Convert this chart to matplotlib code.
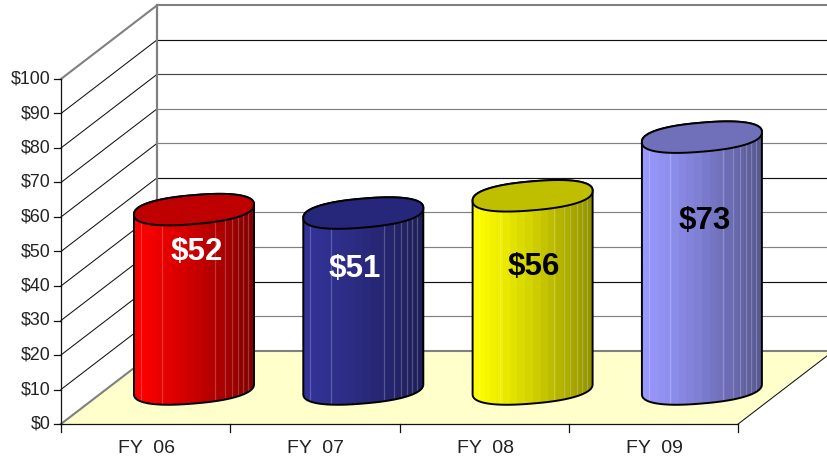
import numpy as np
import matplotlib
matplotlib.use("Agg")
import matplotlib.pyplot as plt
from matplotlib.patches import Polygon

categories = ["FY  06", "FY  07", "FY  08", "FY  09"]
values = [52, 51, 56, 73]
value_labels = ["$52", "$51", "$56", "$73"]
label_heights = [39.7, 34.9, 35.3, 48.6]
label_shift_px = [2.5, -9, 1.0, 3]
label_colors = ["white", "white", "black", "black"]
left_colors = ["#ff0000", "#333399", "#ffff00", "#9999ff"]
right_colors = ["#800000", "#1e1e58", "#909000", "#565690"]
top_colors = ["#bf0000", "#26267a", "#bfbf00", "#7070ba"]
y_ticks = list(range(0, 101, 10))
y_tick_labels = [f"${v}" for v in y_ticks]
grid_colors = {0: "#808080", 10: "#808080", 20: "#111111", 30: "#808080", 40: "#808080",
               50: "#111111", 60: "#808080", 70: "#808080", 80: "#444444", 90: "#111111", 100: "#808080"}

plt.rcParams["font.family"] = ["Liberation Sans", "DejaVu Sans"]

# scale: pixels per category / per value unit
SX, SY = 169.3, 3.45
CX0, BASE = 194.0, 389.0
W, H = 827, 461
fig = plt.figure(figsize=(W / 100, H / 100), dpi=100, facecolor="white")
ax = fig.add_axes([0, 0, 1, 1])
ax.set_xlim(-CX0 / SX, (W - CX0) / SX)
ax.set_ylim((BASE - H) / SY, BASE / SY)
ax.axis("off")

FDX, FDV = -48.4 / SX, -35.0 / SY
BDX, BDV = 47.5 / SX, 38.5 / SY
xl, xr = -0.5, len(categories) - 0.5


def front(c, v):
    return c + FDX, v + FDV


def back(c, v):
    return c + BDX, v + BDV


# floor
ax.add_patch(Polygon([front(xl, 0), front(xr, 0), back(xr, 0), back(xl, 0)],
                     closed=True, fc="#ffffcc", ec="none", zorder=1))
# grid on back and side walls
for v in y_ticks:
    col = grid_colors[v]
    lw = 1.5 if v in (0, 100) else 0.85
    p0, p1 = back(xl, v), back(xr, v)
    ax.plot([p0[0], p1[0]], [p0[1], p1[1]], color=col, lw=lw, zorder=2, solid_capstyle="butt")
    q = front(xl, v)
    side_col = "#808080" if v in (0, 100) else "#111111"
    ax.plot([q[0], p0[0]], [q[1], p0[1]], color=side_col, lw=lw if v in (0, 100) else 0.75, zorder=2)
# back wall left edge
p0, p1 = back(xl, 0), back(xl, 100)
ax.plot([p0[0], p1[0]], [p0[1], p1[1]], color="#808080", lw=1.6, zorder=2)
# floor right edge
p0, p1 = front(xr, 0), back(xr, 0)
ax.plot([p0[0], p1[0]], [p0[1], p1[1]], color="#111111", lw=0.75, zorder=2)
# front axes
p0, p1 = front(xl, 0), front(xl, 100)
ax.plot([p0[0], p1[0]], [p0[1], p1[1]], color="#111111", lw=0.9, zorder=3)
p2 = front(xr, 0)
ax.plot([p0[0], p2[0]], [p0[1], p2[1]], color="#111111", lw=0.9, zorder=3)
for v, lab in zip(y_ticks, y_tick_labels):
    x, y = front(xl, v)
    ax.plot([x - 7 / SX, x], [y, y], color="#111111", lw=0.9, zorder=3)
    ax.text(x - 10.5 / SX, y, lab, ha="right", va="center", fontsize=12.8, color="#222222")
for i in range(len(categories) + 1):
    x, y = front(xl + i, 0)
    ax.plot([x, x], [y - 8 / SY, y], color="#111111", lw=0.9, zorder=3)
for i, lab in enumerate(categories):
    x, y = front(i, 0)
    ax.text(x + 1 / SX, y - 24 / SY, lab, ha="center", va="center", fontsize=14, color="#222222")

# cylinders
HALF_W = 60.0 / SX
TILT = 5.0 / SY
HALF_H = 14.5 / SY
EXP = 2.35
t = np.linspace(0, 2 * np.pi, 361)
u = np.sign(np.cos(t)) * np.abs(np.cos(t)) ** (2 / EXP)
w = np.sign(np.sin(t)) * np.abs(np.sin(t)) ** (2 / EXP)
ex = HALF_W * u
ey = TILT * u + HALF_H * w
lower = (t >= np.pi) & (t <= 2 * np.pi)

band_edges = 0.5 - 0.5 * np.cos(np.linspace(0, np.pi, 25))
stripe_px = [6.7, 27.7, 81, 91, 97.7, 104, 109, 114]


def hex_rgb(c):
    return np.array(matplotlib.colors.to_rgb(c))


for i, val in enumerate(values):
    xs = i + ex
    top = val + ey
    base = ey
    # body outline: lower arc of base, up the right side, back along the top arc
    lo_x, lo_y = xs[lower], base[lower]
    up_x, up_y = xs[~lower], top[~lower]
    body = np.vstack([np.column_stack([lo_x, lo_y]), np.column_stack([up_x, up_y])])
    clip = Polygon(body, closed=True, transform=ax.transData, fc="none", ec="none")
    ax.add_patch(clip)
    cols = 240
    pos = (np.arange(cols) + 0.5) / cols
    idx = np.clip(np.searchsorted(band_edges, pos) - 1, 0, len(band_edges) - 2)
    f = ((band_edges[idx] + band_edges[idx + 1]) / 2) ** 1.25
    c0, c1 = hex_rgb(left_colors[i]), hex_rgb(right_colors[i])
    img = (c0[None, :] * (1 - f[:, None]) + c1[None, :] * f[:, None])[None, :, :]
    im = ax.imshow(img, extent=[i - HALF_W, i + HALF_W, lo_y.min() - 1, val + 12],
                   aspect="auto", interpolation="nearest", zorder=4)
    im.set_clip_path(clip)
    for sp in stripe_px:
        x = i - HALF_W + sp / SX
        ln, = ax.plot([x, x], [-8, val + 8], color="white", alpha=0.22, lw=0.9, zorder=4.5)
        ln.set_clip_path(clip)
    ax.add_patch(Polygon(body, closed=True, fc="none", ec="black", lw=1.4, zorder=5))
    ax.add_patch(Polygon(np.column_stack([xs, top]), closed=True,
                         fc=top_colors[i], ec="black", lw=1.4, zorder=6))
    ax.text(i + label_shift_px[i] / SX, label_heights[i], value_labels[i], ha="center", va="center",
            fontsize=22.5, fontweight="bold", color=label_colors[i], zorder=7)

ax.set_xlim(-CX0 / SX, (W - CX0) / SX)
ax.set_ylim((BASE - H) / SY, BASE / SY)
fig.savefig("out.png", dpi=100, facecolor="white")
